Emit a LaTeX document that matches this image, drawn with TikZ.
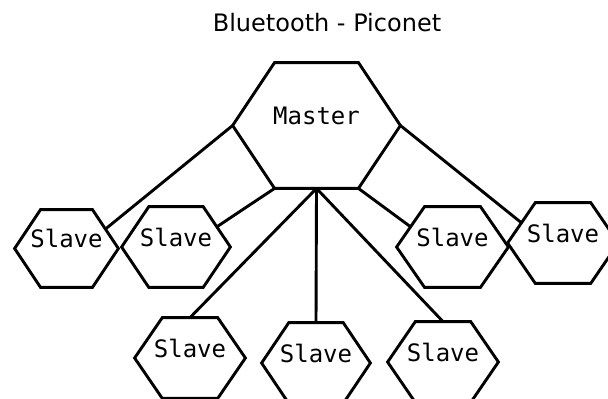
\documentclass[tikz,border=0pt]{standalone}
\usepackage{fontspec}
\setmainfont{DejaVu Sans}
\setmonofont{DejaVu Sans Mono}
\usepackage{tikz}
\usetikzlibrary{calc}
\tikzset{
  hexbox/.style={rectangle,inner sep=0pt,minimum width=54pt,minimum height=40pt,
                 font=\ttfamily\fontsize{12}{14}\selectfont,
                 text height=9pt,text depth=10pt},
  hexline/.style={line width=1.45pt,line join=miter},
  link/.style={line width=1.45pt},
  heading/.style={font=\fontsize{12}{14}\selectfont},
}

\begin{document}
\begin{tikzpicture}[x=0.5pt,y=-0.5pt]
  \useasboundingbox (0,0) rectangle (608,398);
  \node[heading] (title) at (327,23) {Bluetooth - Piconet};
  \node[hexbox,minimum width=83.5pt,minimum height=62.5pt] (master) at (316.5,125.5) {Master};
  \node[hexbox,minimum width=51.5pt,minimum height=38.5pt] (s1) at (66.5,248.5) {Slave};
  \node[hexbox] (s2) at (176,247) {Slave};
  \node[hexbox,minimum width=55.5pt] (s3) at (452.5,247) {Slave};
  \node[hexbox,minimum width=55pt] (s4) at (563,243) {Slave};
  \node[hexbox,minimum width=55pt] (s5) at (190,358) {Slave};
  \node[hexbox] (s6) at (316,363) {Slave};
  \node[hexbox,minimum width=55pt] (s7) at (443,362) {Slave};
  % hexagon outline around every box
  \foreach \n in {master,s1,s2,s3,s4,s5,s6,s7}{
    \draw[hexline] (\n.west)
      -- ($(\n.north west)!.25!(\n.north east)$) coordinate (\n-tl)
      -- ($(\n.north west)!.75!(\n.north east)$) coordinate (\n-tr)
      -- (\n.east)
      -- ($(\n.south west)!.75!(\n.south east)$) coordinate (\n-br)
      -- ($(\n.south west)!.25!(\n.south east)$) coordinate (\n-bl)
      -- cycle;
  }
  % links master -> slaves
  \draw[link] (master.west) -- ($(s1-tr)!.5!(s1.east)$);
  \draw[link] (master-bl) -- ($(s2-tr)!.5!(s2.east)$);
  \draw[link] (master.south) -- (s5.north);
  \draw[link] (master.south) -- (s6.north);
  \draw[link] (master.south) -- (s7.north);
  \draw[link] (master-br) -- ($(s3-tl)!.5!(s3.west)$);
  \draw[link] (master.east) -- ($(s4-tl)!.5!(s4.west)$);
\end{tikzpicture}
\end{document}
